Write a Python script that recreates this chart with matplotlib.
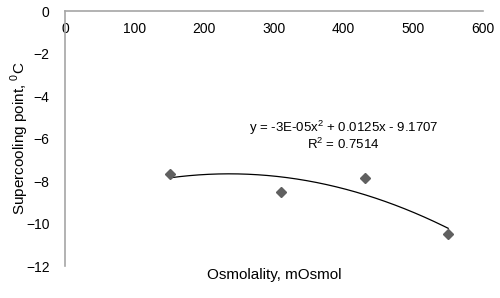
import matplotlib
matplotlib.use("Agg")
import matplotlib.pyplot as plt
import numpy as np

# data
osmolality = [150, 310, 430, 550]
supercooling = [-7.67, -8.50, -7.84, -10.50]
eq_text = "y = -3E-05x$^2$ + 0.0125x - 9.1707"
r2_text = "R$^2$ = 0.7514"
x_ticks = [0, 100, 200, 300, 400, 500, 600]
y_ticks = [0, -2, -4, -6, -8, -10, -12]

plt.rcParams['font.family'] = ['Liberation Sans', 'DejaVu Sans']
plt.rcParams['mathtext.fontset'] = 'custom'
plt.rcParams['mathtext.rm'] = 'Liberation Sans'

fig = plt.figure(figsize=(5.0, 2.98), dpi=100)
ax = fig.add_axes([0.13, 0.107, 0.836, 0.856])

ax.plot(osmolality, supercooling, 'D', color='#606060', ms=5.5, zorder=3)

# 2nd order polynomial trendline
coef = np.polyfit(osmolality, supercooling, 2)
xs = np.linspace(min(osmolality), max(osmolality), 200)
ax.plot(xs, np.polyval(coef, xs), color='black', lw=0.9)

ax.text(400, -5.5, eq_text, ha='center', va='center', fontsize=9.5)
ax.text(400, -6.26, r2_text, ha='center', va='center', fontsize=9.5)

ax.set_xlim(0, 600)
ax.set_ylim(-12, 0)
ax.set_xticks(x_ticks)
ax.set_yticks(y_ticks)

ax.xaxis.set_ticks_position('top')
ax.tick_params(axis='x', labeltop=True, labelbottom=False, length=0, pad=-18, labelsize=10)
ax.tick_params(axis='y', length=0, pad=11, labelsize=10)

for s in ['bottom', 'right']:
    ax.spines[s].set_visible(False)
for s in ['left', 'top']:
    ax.spines[s].set_color('#a6a6a6')
    ax.spines[s].set_linewidth(1.2)

ax.set_xlabel('Osmolality, mOsmol', fontsize=11, labelpad=1)
ax.set_ylabel('Supercooling point, $^{0}$C', fontsize=11)
ax.yaxis.set_label_coords(-0.082, 0.5)

fig.savefig('out.png', dpi=100)
